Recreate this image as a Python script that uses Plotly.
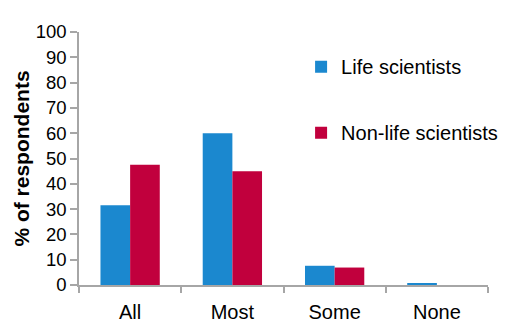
import plotly.graph_objects as go

categories = ["All", "Most", "Some", "None"]
life_scientists = [31.5, 60, 7.6, 0.5]
non_life_scientists = [47.5, 45, 6.9, 0]
y_ticks = [0, 10, 20, 30, 40, 50, 60, 70, 80, 90, 100]

BLUE = "#1B88CF"
RED = "#C1003D"
AXIS = "#A6A6A6"
FONT = "Liberation Sans, Arial, sans-serif"

fig = go.Figure()
fig.add_trace(go.Bar(x=categories, y=life_scientists, name="Life scientists",
                     marker=dict(color=BLUE, line=dict(width=0)), legendgroup="a"))
fig.add_trace(go.Bar(x=categories, y=non_life_scientists, name="Non-life scientists",
                     marker=dict(color=RED, line=dict(width=0)), legendgroup="b"))

# the page body adds an 8px offset, so the figure is sized to fit the window
fig.update_layout(
    width=506, height=321,
    margin=dict(l=71, r=26, t=24, b=44, autoexpand=False),
    paper_bgcolor="white", plot_bgcolor="white",
    font=dict(family=FONT, color="black"),
    barmode="group", bargap=0.42, bargroupgap=0,
    legend=dict(x=0.543, y=0.94, xanchor="left", yanchor="top",
                font=dict(size=20, family=FONT, color="black"),
                tracegroupgap=37, itemwidth=30, bgcolor="rgba(0,0,0,0)"),
    xaxis=dict(showline=True, linecolor=AXIS, linewidth=1.5, automargin=False,
               ticks="outside", tickson="boundaries", ticklen=6, tickcolor=AXIS,
               tickwidth=1.5, tickfont=dict(size=20), ticklabelstandoff=8,
               showgrid=False, zeroline=False),
    yaxis=dict(range=[0, 100], tickvals=y_ticks, showline=True, linecolor=AXIS,
               linewidth=1.5, ticks="outside", ticklen=7, tickcolor=AXIS, tickwidth=1.5,
               automargin=False, ticksuffix="\u00a0",
               tickfont=dict(size=18.5), showgrid=False, zeroline=False,
               title=dict(text="<b>% of respondents</b>", font=dict(size=21), standoff=0)),
)

fig.write_html("out.html")
